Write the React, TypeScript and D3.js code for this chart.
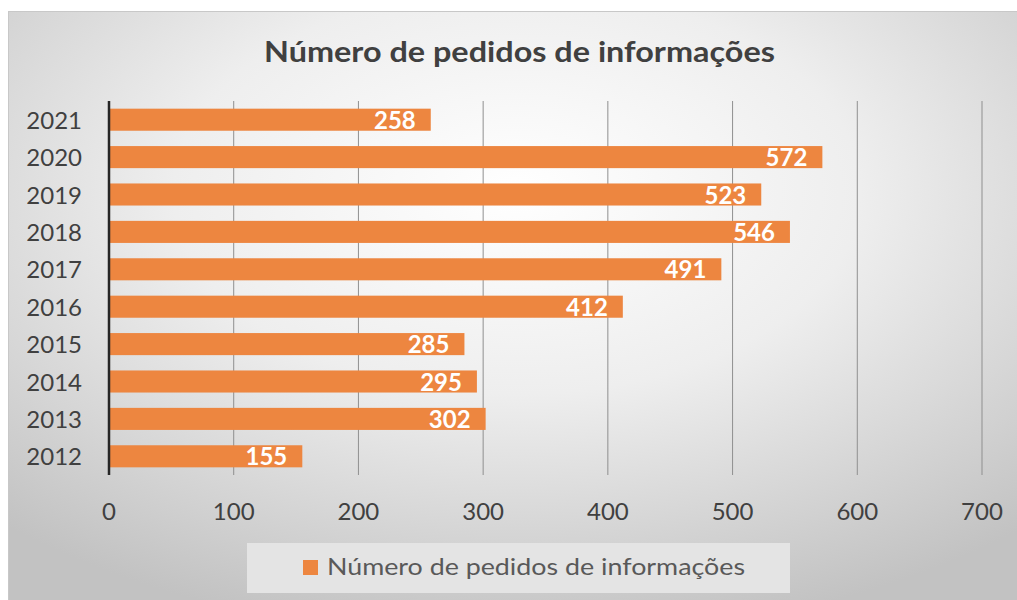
import React from "react";
import * as d3 from "d3";

const years = ["2021", "2020", "2019", "2018", "2017", "2016", "2015", "2014", "2013", "2012"];
const values = [258, 572, 523, 546, 491, 412, 285, 295, 302, 155];
const xTicks = [0, 100, 200, 300, 400, 500, 600, 700];
const title = "Número de pedidos de informações";
const seriesName = "Número de pedidos de informações";

const W = 1017;
const H = 600;
const FONT = "Lato, 'Open Sans', sans-serif";

export default function App() {
  const x = d3.scaleLinear().domain([0, 700]).range([109, 982]);
  const y = d3.scaleBand<string>().domain(years).range([101, 475]).paddingInner(0.41).paddingOuter(0.205);
  return (
    <svg width={W} height={H} style={{ position: "absolute", left: 0, top: 0 }}>
      <defs>
        <radialGradient id="bg" cx="0.5" cy="0.3" r="0.75">
          <stop offset="0" stopColor="#ffffff" />
          <stop offset="0.45" stopColor="#eeeeee" />
          <stop offset="1" stopColor="#c2c2c2" />
        </radialGradient>
      </defs>
      <rect x={0} y={0} width={W} height={H} fill="#ffffff" />
      <rect x={8.5} y={11.5} width={W} height={H} fill="url(#bg)" stroke="#c8c8c8" />
      <text x={519.5} y={62} textAnchor="middle" fontFamily={FONT} fontWeight={700} fontSize={28} fill="#404040"
        textLength={511} lengthAdjust="spacingAndGlyphs">
        {title}
      </text>
      {xTicks.slice(1).map((t) => (
        <line key={t} x1={x(t)} x2={x(t)} y1={101} y2={475} stroke="#8f8f8f" strokeWidth={1} />
      ))}
      {years.map((yr, i) => (
        <g key={yr}>
          <rect x={x(0)} y={y(yr)} width={x(values[i]) - x(0)} height={y.bandwidth()} fill="#ED8640" />
          <text
            x={x(values[i]) - 15}
            y={(y(yr) as number) + y.bandwidth() / 2 + 9}
            textAnchor="end"
            fontFamily={FONT}
            fontWeight={700}
            fontSize={24}
            fill="#ffffff"
          >
            {values[i]}
          </text>
          <text
            x={82}
            y={(y(yr) as number) + y.bandwidth() / 2 + 9}
            textAnchor="end"
            fontFamily={FONT}
            fontSize={24}
            fill="#404040"
          >
            {yr}
          </text>
        </g>
      ))}
      <line x1={x(0)} x2={x(0)} y1={101} y2={475} stroke="#262626" strokeWidth={2.5} />
      {xTicks.map((t) => (
        <text key={t} x={x(t)} y={520} textAnchor="middle" fontFamily={FONT} fontSize={24} fill="#404040">
          {t}
        </text>
      ))}
      <rect x={247} y={543} width={543} height={50} fill="#e4e4e4" />
      <rect x={303} y={560} width={15} height={15} fill="#ED8640" />
      <text x={327} y={575} fontFamily={FONT} fontSize={24} fill="#595959" textLength={418} lengthAdjust="spacingAndGlyphs">
        {seriesName}
      </text>
    </svg>
  );
}
